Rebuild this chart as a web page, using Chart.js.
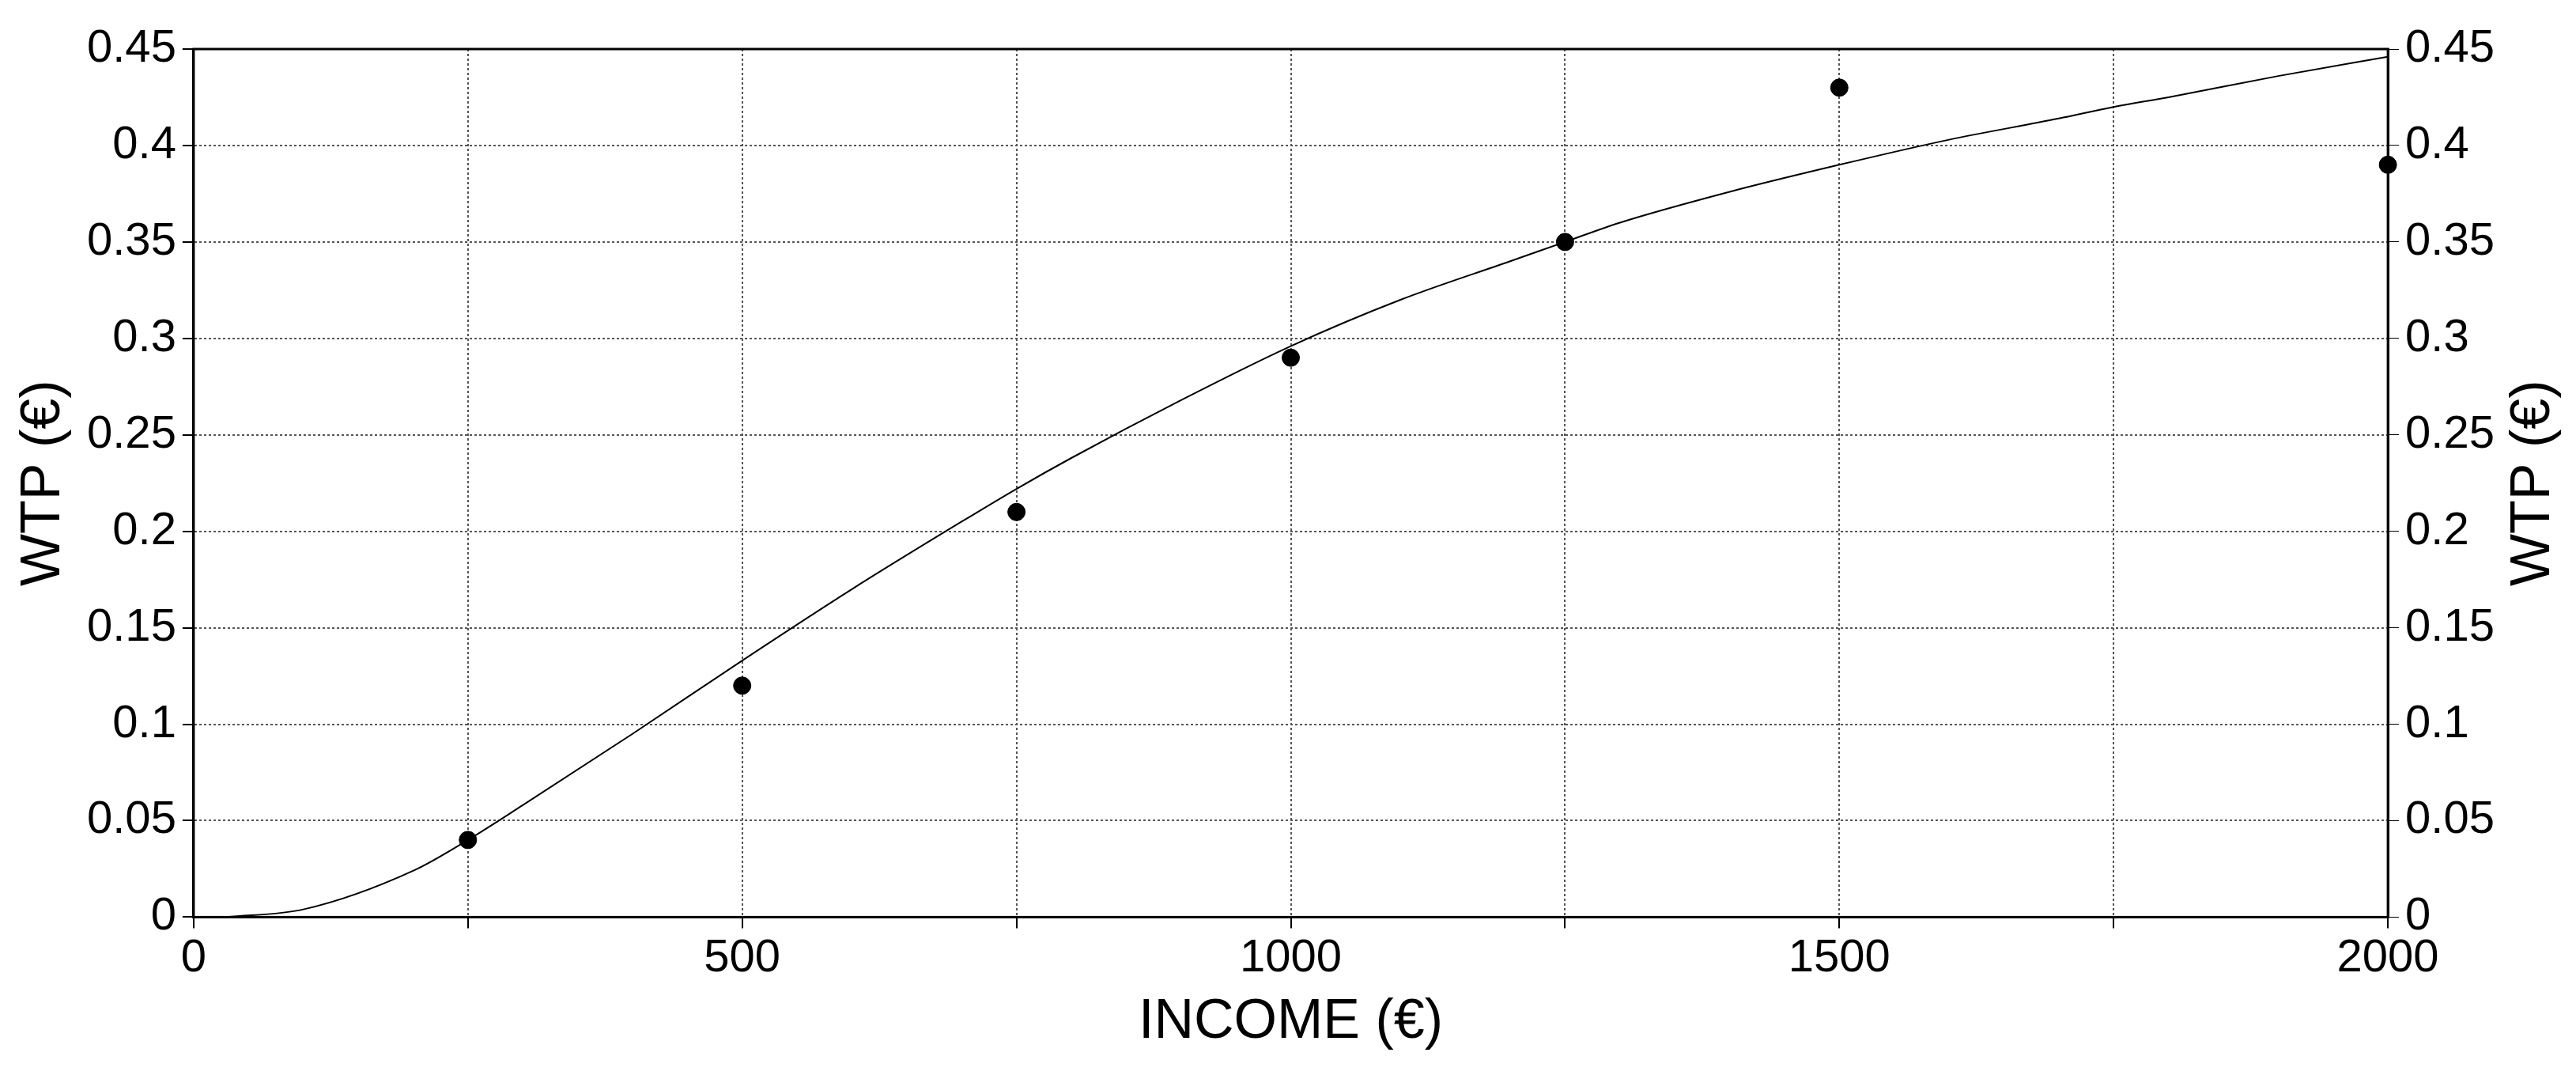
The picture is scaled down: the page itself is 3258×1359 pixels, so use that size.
<!DOCTYPE html>
<html><head><meta charset="utf-8">
<script src="https://cdn.jsdelivr.net/npm/chart.js@4"></script>
<style>html,body{margin:0;padding:0;background:#fff}#w{width:3258px;height:1359px}</style>
</head><body><div id="w"><canvas id="c"></canvas></div>
<script>
const obsIncome=[250,500,750,1000,1250,1500,2000];
const obsWtp=[0.04,0.12,0.21,0.29,0.35,0.43,0.39];
const fitIncome=[30,100,200,250,300,400,500,600,700,750,800,900,1000,1100,1200,1250,1300,1400,1500,1600,1700,1750,1800,1900,2000];
const fitWtp=[0,0.004,0.024,0.04,0.058,0.095,0.133,0.17,0.205,0.222,0.238,0.268,0.296,0.32,0.34,0.35,0.36,0.376,0.39,0.403,0.414,0.42,0.425,0.436,0.446];
const F='"Liberation Sans", Arial, sans-serif';
const rightTitle={id:'rt',afterDraw(ch){const c=ch.ctx,a=ch.chartArea;c.save();
c.strokeStyle='#000';c.lineWidth=3;c.strokeRect(a.left,a.top,a.right-a.left,a.bottom-a.top);
c.font='70px '+F;c.fillStyle='#000';c.textAlign='center';c.textBaseline='middle';c.translate(3205,(a.top+a.bottom)/2);c.rotate(-Math.PI/2);c.fillText('WTP (€)',0,0);c.restore();}};
const grid={color:'#555',lineWidth:2,tickLength:14,tickColor:'#000'};
const bord={display:true,color:'#000',width:3,dash:[3,3]};
new Chart(document.getElementById('c'),{
data:{datasets:[
{type:'line',data:fitIncome.map((x,i)=>({x,y:fitWtp[i]})),borderColor:'#000',borderWidth:2,pointRadius:0,cubicInterpolationMode:'monotone',fill:false},
{type:'scatter',data:obsIncome.map((x,i)=>({x,y:obsWtp[i]})),backgroundColor:'#000',borderColor:'#000',pointRadius:11,clip:false}
]},
options:{responsive:true,maintainAspectRatio:false,animation:false,
layout:{padding:{left:10,right:95,top:62,bottom:20}},
plugins:{legend:{display:false},tooltip:{enabled:false}},
scales:{
x:{type:'linear',min:0,max:2000,border:bord,grid:grid,
ticks:{stepSize:250,color:'#000',font:{size:58,family:F},maxRotation:0,padding:4,callback:v=>v%500===0?v:''},
title:{display:true,text:'INCOME (€)',color:'#000',font:{size:70,family:F},padding:{top:0}}},
y:{min:0,max:0.45,border:bord,grid:grid,
ticks:{stepSize:0.05,color:'#000',font:{size:58,family:F},padding:8,callback:v=>+v.toFixed(2)},
title:{display:true,text:'WTP (€)',color:'#000',font:{size:70,family:F}}},
y2:{position:'right',min:0,max:0.45,border:{display:true,color:'#000',width:3},grid:{drawOnChartArea:false,tickLength:14,tickColor:'#000'},
ticks:{stepSize:0.05,color:'#000',font:{size:58,family:F},padding:8,callback:v=>+v.toFixed(2)}}
}},plugins:[rightTitle]});
</script></body></html>
